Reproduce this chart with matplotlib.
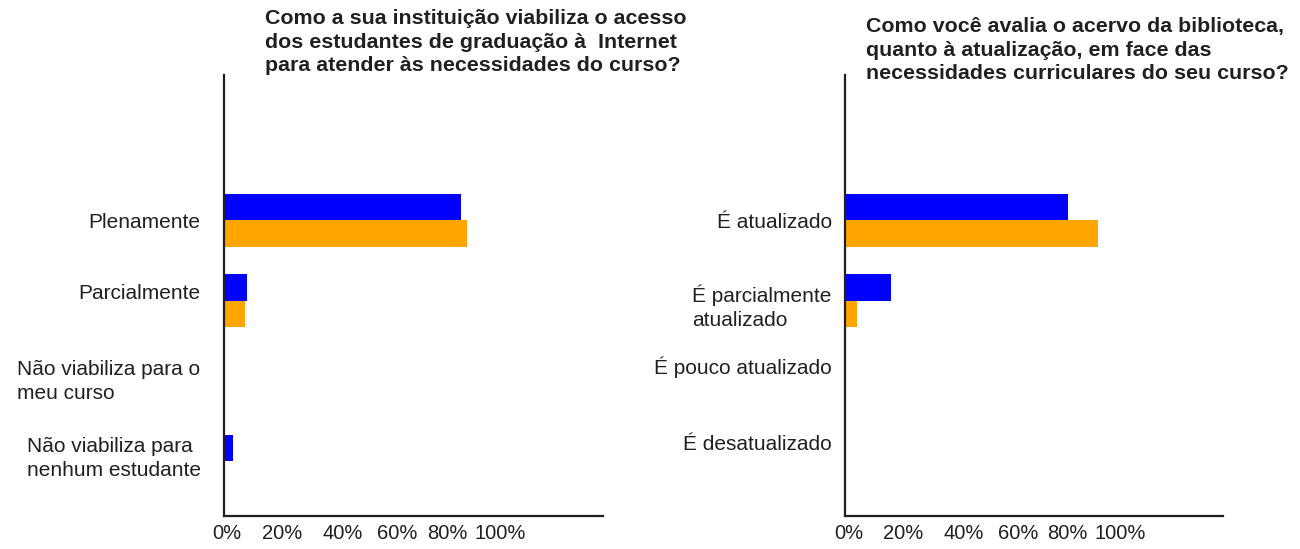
import matplotlib
matplotlib.use("Agg")
import matplotlib.pyplot as plt
import numpy as np

plt.rcParams['font.family'] = ['Liberation Sans', 'DejaVu Sans']

# ---- data ----
title_left = "Como a sua instituição viabiliza o acesso\ndos estudantes de graduação à  Internet\npara atender às necessidades do curso?"
title_right = "Como você avalia o acervo da biblioteca,\nquanto à atualização, em face das\nnecessidades curriculares do seu curso?"

cats_left = ["Plenamente", "Parcialmente", "Não viabiliza para o\nmeu curso",
             "Não viabiliza para\nnenhum estudante"]
blue_left = [88.2, 8.6, 0.0, 3.4]
orange_left = [90.1, 7.9, 0.0, 0.0]

cats_right = ["É atualizado", "É parcialmente\natualizado", "É pouco atualizado",
              "É desatualizado"]
blue_right = [83.0, 17.0, 0.0, 0.0]
orange_right = [94.1, 4.4, 0.0, 0.0]

xtick_labels = ["0%", "20%", "40%", "60%", "80%", "100%"]

# ---- style ----
BLUE = "#0000FF"
ORANGE = "#FFA500"
INK = "#231F20"
xtick_label_pos = [1.3, 21.7, 44.3, 64.3, 82.8, 102.4]
ylabel_pos_left = [0.0, 0.886, 1.95, 2.91]
ylabel_pos_right = [0.0, 1.03, 1.80, 2.76]

W, H = 1300, 549
fig = plt.figure(figsize=(W / 100, H / 100), dpi=100)


def panel(left_px, right_px, cats, blue, orange, pad, label_pos):
    top_px, bot_px = 75, 516
    ax = fig.add_axes([left_px / W, 1 - bot_px / H, (right_px - left_px) / W,
                       (bot_px - top_px) / H])
    y = np.arange(len(cats))
    h = 0.33
    ax.barh(y - h / 2, blue, height=h, color=BLUE, align='center')
    ax.barh(y + h / 2, orange, height=h, color=ORANGE, align='center')
    ax.set_xlim(0, 140.7)
    ax.set_ylim(3.68, -1.81)
    ax.set_yticks(label_pos)
    ax.set_yticklabels(cats, fontsize=15, color=INK)
    for lab in ax.get_yticklabels():
        lab.set_multialignment('left')
        lab.set_linespacing(1.32)
    ax.set_xticks(xtick_label_pos)
    ax.set_xticklabels(xtick_labels, fontsize=14.5, color=INK)
    ax.tick_params(axis='y', length=0, pad=pad)
    ax.tick_params(axis='x', length=0, pad=6)
    for s in ['top', 'right']:
        ax.spines[s].set_visible(False)
    for s in ['left', 'bottom']:
        ax.spines[s].set_linewidth(1.6)
        ax.spines[s].set_color(INK)
    return ax


panel(223.5, 603, cats_left, blue_left, orange_left, 16.5, ylabel_pos_left)
panel(845, 1223, cats_right, blue_right, orange_right, 9.5, ylabel_pos_right)

fig.text(265 / W, 1 - 42 / H, title_left, ha='left', va='center',
         fontsize=15.4, fontweight='bold', color=INK, linespacing=1.33)
fig.text(866 / W, 1 - 50 / H, title_right, ha='left', va='center',
         fontsize=15.4, fontweight='bold', color=INK, linespacing=1.33)

fig.savefig("out.png", dpi=100)
